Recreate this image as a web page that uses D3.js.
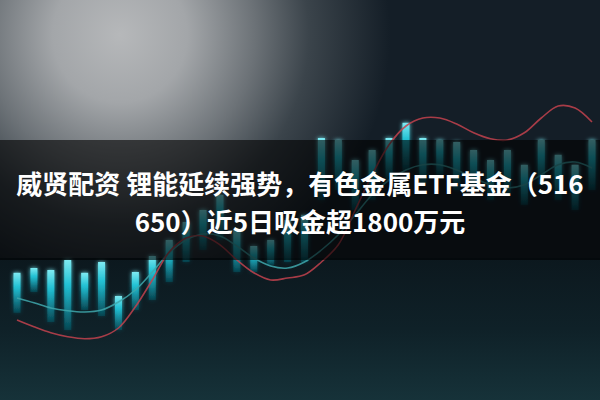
<!DOCTYPE html>
<html><head><meta charset="utf-8">
<script src="https://cdn.jsdelivr.net/npm/d3@7"></script>
<style>html,body{margin:0;padding:0;background:#141e27;}svg{display:block;}</style>
</head><body>
<svg id="chart" width="600" height="400"></svg>
<script>
// ---- data ----
const days = d3.range(35).map(i => "D" + (i + 1));
const highs  = [36.3,37.5,35.5,38,35.5,76.8,30,36.3,75,43,50,75.8,56.3,72.5,71.8,70,62.5,98,98,90,76.3,84.5,92,82.5,81.3,80,80,80.8,67.5,81.3,67.5,82,75,67.5,87.5];
const lows   = [17.5,25,17,15,20,17,15,20,22,26,30,32.5,34.5,27,27.5,25,25.5,27,37.5,40,41.3,40,42.5,45,42.5,43.8,42.5,45,43.8,45,42.5,43.8,42.5,41.3,42.5];
const opens  = [21.8,27,19.5,17.5,22.5,21,17.5,22.5,25,29.5,34.5,37.5,40,32,32,33.8,34.5,34.5,50,52.5,47.5,50,55,57.5,53.8,56.3,52.5,52.5,50,51.3,48.8,53.8,50,47.5,52.5];
const closes = [31.8,33,32.5,35,31.8,34.5,26,32,36,40,44.5,47.5,51.3,42.5,38.5,40,45,46.3,65.5,65,60,62.5,65.5,69.3,65.5,65,64.5,62.5,60,62.5,58.8,65,61.3,58.8,65];
const maRed  = [20,18.3,16.8,15.8,15.3,15.8,18,23.3,30,37,40.5,41,38.8,35,31.8,30,30.5,31.3,34.5,38.8,47.5,56.3,63.8,68.5,70.5,70.5,69,66.8,65.3,65,66.8,70.5,73.5,73,69.5];
const maTeal = [25.5,24.3,23,22.3,22,22.5,24.5,27.5,32,36.8,40,41.5,41,38.5,35.5,33.5,33,34.5,37.5,41.3,46.3,51.3,55,57.5,58.8,58.8,57.5,55.5,53.8,53,53.8,56.3,58.8,59.5,58];
const titleLines = ["威贤配资 锂能延续强势，有色金属ETF基金（516", "650）近5日吸金超1800万元"];

// ---- drawing ----
const W = 600, H = 400;
const svg = d3.select("#chart");
const defs = svg.append("defs");

const rg = defs.append("radialGradient").attr("id","bgLight")
  .attr("gradientUnits","userSpaceOnUse").attr("cx",120).attr("cy",35).attr("r",270);
[[0,"#b6b8ba"],[0.25,"#a3a6a9"],[0.5,"#6c7277"],[0.7,"#3b444b"],[1,"#141e27"]]
  .forEach(([o,c]) => rg.append("stop").attr("offset",o).attr("stop-color",c));

const lg = defs.append("linearGradient").attr("id","lowerBg").attr("x1",0).attr("y1",0).attr("x2",0).attr("y2",1);
[[0,"#0c181e"],[0.5,"#0f2128"],[1,"#163239"]]
  .forEach(([o,c]) => lg.append("stop").attr("offset",o).attr("stop-color",c));

const bodyG = defs.append("linearGradient").attr("id","bodyGrad").attr("x1",0).attr("y1",0).attr("x2",0).attr("y2",1);
[[0,"#7eeaf2",1],[0.35,"#22c3d6",0.95],[1,"#0b6b7c",0.35]]
  .forEach(([o,c,a]) => bodyG.append("stop").attr("offset",o).attr("stop-color",c).attr("stop-opacity",a));

const glow = defs.append("filter").attr("id","glow").attr("x","-100%").attr("y","-20%").attr("width","300%").attr("height","140%");
glow.append("feGaussianBlur").attr("stdDeviation",2.2).attr("result","b");
const fm = glow.append("feMerge");
fm.append("feMergeNode").attr("in","b");
fm.append("feMergeNode").attr("in","SourceGraphic");

const soft = defs.append("filter").attr("id","soft");
soft.append("feGaussianBlur").attr("stdDeviation",0.6);

// background
svg.append("rect").attr("width",W).attr("height",H).attr("fill","#141e27");
svg.append("rect").attr("width",W).attr("height",H).attr("fill","url(#bgLight)");
svg.append("rect").attr("x",0).attr("y",258).attr("width",W).attr("height",H-258).attr("fill","url(#lowerBg)");

// scales
const x = d3.scalePoint().domain(days).range([17, 592]);
const y = d3.scaleLinear().domain([0, 100]).range([H, 0]);

const data = days.map((d,i) => ({d, h:highs[i], l:lows[i], o:opens[i], c:closes[i]}));

const candles = svg.append("g").attr("class","candles");
candles.selectAll("line.wick").data(data).join("line").attr("class","wick")
  .attr("x1", d => x(d.d)).attr("x2", d => x(d.d))
  .attr("y1", d => y(d.h)).attr("y2", d => y(d.l))
  .attr("stroke", (d,i) => i < 17 ? "#9adfe4" : "#4fc7cf")
  .attr("stroke-width", 1.3)
  .attr("stroke-opacity", 0.65)
  .attr("filter","url(#soft)");

candles.selectAll("rect.body").data(data).join("rect").attr("class","body")
  .attr("x", d => x(d.d) - 3.5).attr("width", 7)
  .attr("y", d => y(Math.max(d.o,d.c)))
  .attr("height", d => Math.max(2, Math.abs(y(d.o) - y(d.c))))
  .attr("fill","url(#bodyGrad)")
  .attr("filter","url(#glow)");

// moving average lines
const line = (arr) => d3.line().x((v,i) => x(days[i])).y(v => y(v)).curve(d3.curveCatmullRom)(arr);
svg.append("path").attr("d", line(maTeal)).attr("fill","none")
  .attr("stroke","#3fa8ad").attr("stroke-width",1.6).attr("stroke-opacity",0.85);
svg.append("path").attr("d", line(maRed)).attr("fill","none")
  .attr("stroke","#c2424e").attr("stroke-width",1.6).attr("stroke-opacity",0.85);

// dark band
svg.append("rect").attr("x",0).attr("y",140).attr("width",W).attr("height",120)
  .attr("fill","#000").attr("fill-opacity",0.6);

// title
const t = svg.append("g").attr("font-family","'Noto Sans CJK SC','Noto Sans',sans-serif")
  .attr("font-weight",700).attr("font-size",26).attr("fill","#ffffff").attr("text-anchor","middle");
t.selectAll("text").data(titleLines).join("text")
  .attr("x", W/2).attr("y", (d,i) => 182 + i*38)
  .attr("dominant-baseline","central")
  .text(d => d);
</script>
</body></html>
